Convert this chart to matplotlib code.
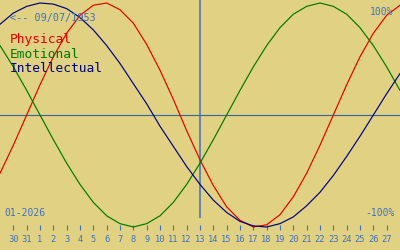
import matplotlib
matplotlib.use("Agg")
import matplotlib.pyplot as plt

# Day positions: index 0 = 29 Dec 2025 ... index 30 = 28 Jan 2026
day_index = list(range(31))
tick_positions = list(range(1, 30))
tick_labels = ["30", "31"] + [str(d) for d in range(1, 28)]

# Values in percent, read per day from the chart
physical = [-52, -27, 0, 27, 52, 73, 89, 98, 100, 94, 82, 63, 40, 14, -14, -40,
            -63, -82, -94, -100, -98, -89, -73, -52, -27, 0, 27, 52, 73, 89, 98]
emotional = [62, 43, 22, 0, -22, -43, -62, -78, -90, -97, -100, -97, -90, -78, -62, -43,
             -22, 0, 22, 43, 62, 78, 90, 97, 100, 97, 90, 78, 62, 43, 22]
intellectual = [81, 91, 97, 100, 99, 95, 87, 76, 62, 46, 28, 10, -10, -28, -46, -62,
                -76, -87, -95, -99, -100, -97, -91, -81, -69, -54, -37, -19, 0, 19, 37]

today_index = 15
birth_text = "<-- 09/07/1953"
month_text = "01-2026"
series_names = ["Physical", "Emotional", "Intellectual"]

BG = "#e0d282"
BLUE = "#4070c0"
LINE_BLUE = "#3d66a0"
colors = ["#e00000", "#007800", "#000080"]

W, H = 400, 250
fig = plt.figure(figsize=(4, 2.5), dpi=100, facecolor=BG)
ax = fig.add_axes([0, 20 / H, 1, 230 / H])
ax.set_facecolor(BG)
lim = 115 / 1.12
ax.set_xlim(0, 30)
ax.set_ylim(-lim, lim)
for s in ax.spines.values():
    s.set_visible(False)

ax.axhline(0, color=LINE_BLUE, lw=0.85, zorder=1)
ax.vlines(today_index, (115 - 218) / 1.12, lim, color=BLUE, lw=1.1, zorder=1)

for vals, c in zip([physical, emotional, intellectual], colors):
    ax.plot(day_index, vals, color=c, lw=0.85, clip_on=False, zorder=3)

ax.set_xticks(tick_positions)
ax.set_xticklabels(tick_labels)
ax.set_yticks([])
ax.tick_params(axis="x", direction="in", length=3.6, width=0.8, color=BLUE,
               labelcolor=BLUE, labelsize=6.3, pad=3.4)
for lab in ax.get_xticklabels():
    lab.set_family("DejaVu Sans Mono")

mono = "DejaVu Sans Mono"


def ftext(x, y, s, **kw):
    fig.text(x / W, 1 - y / H, s, family=mono, va="baseline", **kw)


ftext(10, 20.7, birth_text, color=BLUE, fontsize=7.3)
for i, (name, c) in enumerate(zip(series_names, colors)):
    ftext(10, 42.5 + 15 * i, name, color=c, fontsize=9.3)
ftext(393, 15.3, "100%", color=BLUE, fontsize=7.0, ha="right")
ftext(395, 216, "-100%", color=BLUE, fontsize=7.0, ha="right")
ftext(4, 216, month_text, color=BLUE, fontsize=7.0)

fig.savefig("out.png", dpi=100, facecolor=BG)
